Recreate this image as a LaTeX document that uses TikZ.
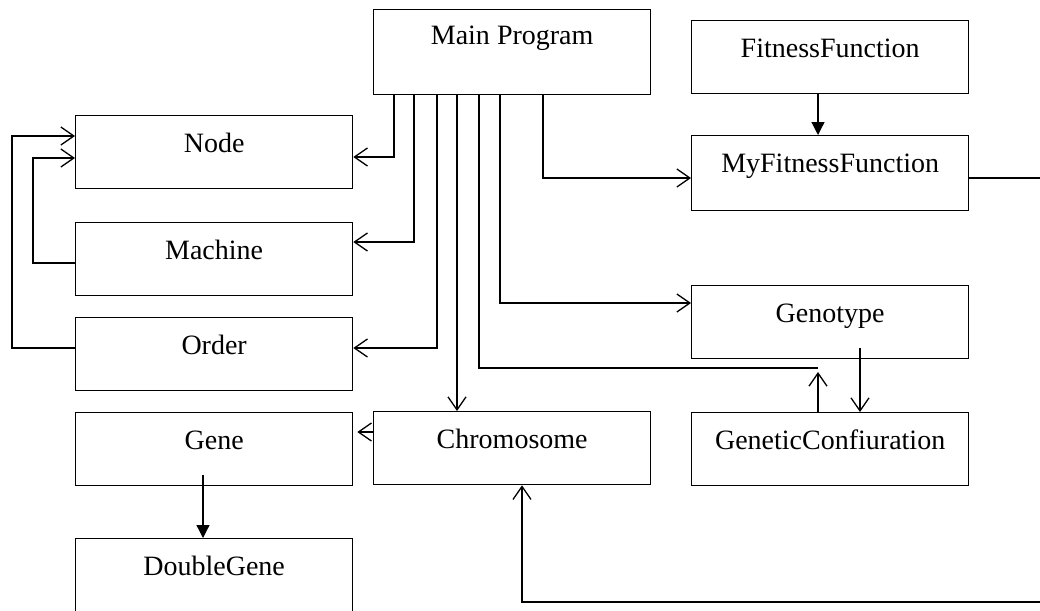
\documentclass[tikz,border=0pt]{standalone}
\usepackage{fontspec}
\setmainfont{Liberation Serif}
\usetikzlibrary{arrows.meta,calc}
\begin{document}
\begin{tikzpicture}[x=1pt,y=-1pt,
  box/.style={draw, line width=1.3pt, rectangle, inner sep=0pt, minimum width=277pt,
    text height=37pt, text depth=36pt, anchor=north west,
    font=\fontsize{28}{34}\selectfont},
  conn/.style={line width=1.3pt},
  openarrow/.style={conn, -{Straight Barb[length=13pt,width=18pt,line width=1.3pt]}},
  filledarrow/.style={conn, -{Triangle[length=13pt,width=13pt]}}
]
\clip (0,0) rectangle (1040,610);
% boxes
\node[box, text height=35pt, text depth=50pt] (main) at (373,9) {Main Program};
\node[box] (fit) at (691,20) {FitnessFunction};
\node[box, text depth=38pt] (myfit) at (691,135) {MyFitnessFunction};
\node[box] (node) at (75,115) {Node};
\node[box] (machine) at (75,222) {Machine};
\node[box] (order) at (75,317) {Order};
\node[box] (geno) at (691,285) {Genotype};
\node[box] (gene) at (75,412) {Gene};
\node[box] (chrom) at (373,411) {Chromosome};
\node[box] (gc) at (691,412) {GeneticConfiuration};
\node[box, text depth=60pt] (dgene) at (75,538) {DoubleGene};
% helper coordinates
\coordinate (gcj) at (818,368);
\coordinate (gcup) at (818,372);
\coordinate (genostart) at (860,348);
\coordinate (genestart) at (203,475);
% main program connectors
\draw[openarrow] (main.south -| 394,0) |- (node.east |- 0,157);
\draw[openarrow] (main.south -| 414,0) |- (machine.east |- 0,242);
\draw[openarrow] (main.south -| 437,0) |- (order.east |- 0,348);
\draw[openarrow] (main.south -| 457,0) -- (chrom.north -| 457,0);
\draw[conn] (main.south -| 479,0) |- (gcj);
\draw[openarrow] (main.south -| 500,0) |- (geno.west |- 0,303);
\draw[openarrow] (main.south -| 543,0) |- (myfit.west |- 0,178);
% others
\draw[filledarrow] (fit.south -| 818,0) -- (myfit.north -| 818,0);
\draw[openarrow] (gc.north -| 818,0) -- (gcup);
\draw[openarrow] (genostart) -- (gc.north -| 860,0);
\draw[openarrow, shorten >=4pt] (chrom.west |- 0,432) -- (gene.east |- 0,432);
\draw[filledarrow] (genestart) -- (dgene.north -| 203,0);
\draw[openarrow] (machine.west |- 0,263) -| (33,158) -- (node.west |- 0,158);
\draw[openarrow] (order.west |- 0,348) -| (12,136) -- (node.west |- 0,136);
\draw[openarrow] (myfit.east |- 0,178) -| (1050,602) -| (chrom.south -| 522,0);
\end{tikzpicture}
\end{document}
